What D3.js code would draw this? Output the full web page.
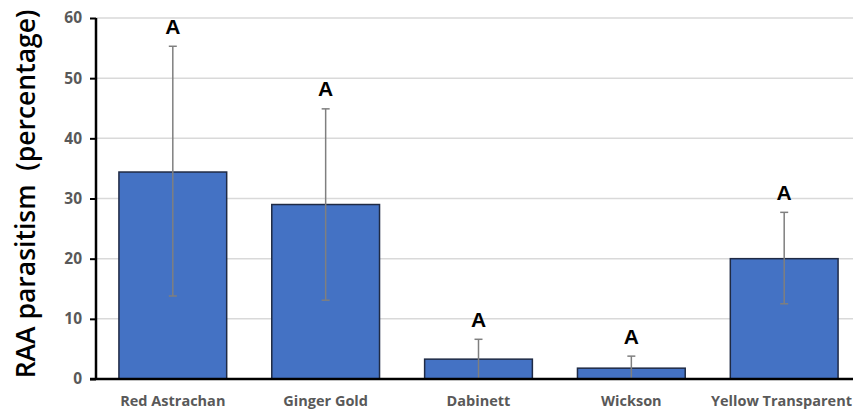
<!DOCTYPE html>
<html><head><meta charset="utf-8">
<script src="https://cdn.jsdelivr.net/npm/d3@7"></script>
<style>body{margin:0;background:#fff}</style>
</head><body>
<svg id="c" width="853" height="410"></svg>
<script>
const categories = ["Red Astrachan","Ginger Gold","Dabinett","Wickson","Yellow Transparent"];
const means = [34.4, 29.0, 3.3, 1.8, 20.0];
const errUpper = [55.3, 44.9, 6.6, 3.8, 27.7];
const errLower = [13.8, 13.1, 0, 0, 12.5];
const letters = ["A","A","A","A","A"];
const yTicks = [0,10,20,30,40,50,60];

const svg = d3.select("#c");
const x = d3.scaleBand().domain(categories).range([96, 861]).paddingInner(0.295).paddingOuter(0.15);
const y = d3.scaleLinear().domain([0,60]).range([379, 18]);

// gridlines
svg.append("g").selectAll("line").data(yTicks.slice(1)).join("line")
  .attr("x1",96).attr("x2",853).attr("y1",d=>y(d)).attr("y2",d=>y(d))
  .attr("stroke","#d9d9d9").attr("stroke-width",1.5);

// bars
svg.append("g").selectAll("rect").data(categories).join("rect")
  .attr("x",d=>x(d)).attr("width",x.bandwidth())
  .attr("y",(d,i)=>y(means[i])).attr("height",(d,i)=>y(0)-y(means[i]))
  .attr("fill","#4472c4").attr("stroke","#1f2a44").attr("stroke-width",1.5);

// error bars
const eg = svg.append("g").attr("stroke","#7f7f7f").attr("stroke-width",1.5);
categories.forEach((c,i)=>{
  const cx = x(c)+x.bandwidth()/2;
  eg.append("line").attr("x1",cx).attr("x2",cx).attr("y1",y(errLower[i])).attr("y2",y(errUpper[i]));
  eg.append("line").attr("x1",cx-4).attr("x2",cx+4).attr("y1",y(errUpper[i])).attr("y2",y(errUpper[i]));
  if (errLower[i] > 0) eg.append("line").attr("x1",cx-4).attr("x2",cx+4).attr("y1",y(errLower[i])).attr("y2",y(errLower[i]));
});

// letters
svg.append("g").selectAll("text").data(categories).join("text")
  .attr("x",d=>x(d)+x.bandwidth()/2).attr("y",(d,i)=>y(errUpper[i])-20)
  .attr("text-anchor","middle").attr("dominant-baseline","central")
  .attr("font-family","Liberation Sans, Arial, sans-serif").attr("font-weight","bold").attr("font-size",21)
  .attr("fill","#000").text((d,i)=>letters[i]);

// y axis
const ya = svg.append("g").attr("transform","translate(96,0)")
  .call(d3.axisLeft(y).tickValues(yTicks).tickSize(6).tickPadding(8));
ya.select(".domain").attr("stroke","#000").attr("stroke-width",2.5).attr("d","M0,"+y(60)+"V"+y(0));
ya.selectAll(".tick line").attr("stroke","#000").attr("stroke-width",2);
ya.selectAll(".tick text").attr("font-family","Open Sans, sans-serif").attr("font-weight","bold")
  .attr("font-size",15.5).attr("fill","#595959");

// x axis baseline
svg.append("line").attr("x1",90).attr("x2",853).attr("y1",y(0)).attr("y2",y(0))
  .attr("stroke","#000").attr("stroke-width",2.5);

// x labels
svg.append("g").selectAll("text").data(categories).join("text")
  .attr("x",d=>x(d)+x.bandwidth()/2).attr("y",406)
  .attr("text-anchor","middle")
  .attr("font-family","Open Sans, sans-serif").attr("font-weight","bold").attr("font-size",14.5)
  .attr("fill","#595959").text(d=>d)
  .each(function(){
    const b = this.getBBox();
    if (b.x + b.width > 852) {
      d3.select(this).attr("text-anchor","end").attr("x",852);
    }
  });

// y title
svg.append("text").attr("transform","translate(25,194) rotate(-90)")
  .attr("text-anchor","middle").attr("dominant-baseline","central")
  .attr("font-family","Open Sans, sans-serif").attr("font-weight","600").attr("font-size",26.5)
  .attr("fill","#000").style("white-space","pre")
  .text("RAA parasitism  (percentage)");
</script>
</body></html>
